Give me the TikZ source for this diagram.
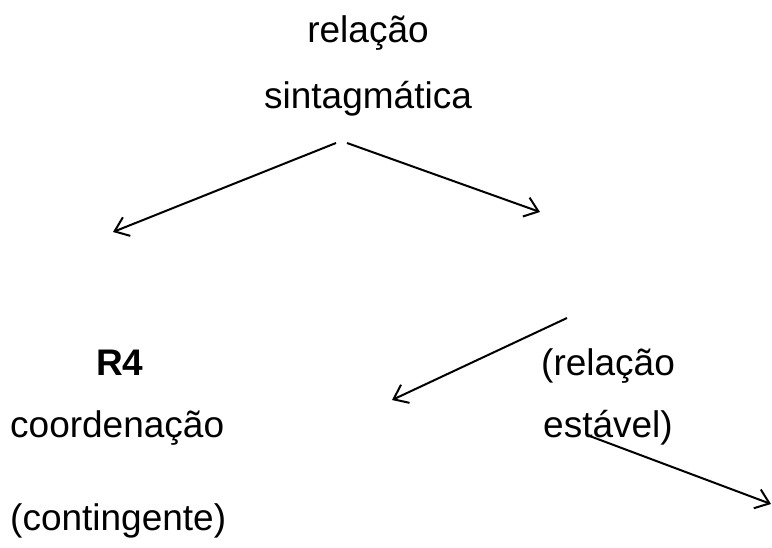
\documentclass[tikz,border=0pt]{standalone}
\usepackage{fontspec}
\setmainfont{Liberation Sans}
\usetikzlibrary{arrows.meta}
\begin{document}
\begin{tikzpicture}[x=1pt,y=-1pt,
  lbl/.style={inner sep=0pt,font=\fontsize{37}{44}\selectfont},
  conn/.style={line width=2pt,-{Straight Barb[length=13pt,width=20pt,line width=2pt]}}]
\useasboundingbox (0,0) rectangle (772,547);
\node[lbl,anchor=base] (rel) at (368,42) {relação};
\node[lbl,anchor=base] (sint) at (368,108) {sintagmática};
\node[lbl,anchor=base west,font=\fontsize{37}{44}\selectfont\bfseries] (r4) at (96,375) {R4};
\node[lbl,anchor=base west] (coord) at (10,437) {coordenação};
\node[lbl,anchor=base west] (cont) at (10,530) {(contingente)};
\node[lbl,anchor=base west] (relb) at (541,375) {(relação};
\node[lbl,anchor=base west] (est) at (543,437) {estável)};
\coordinate (s1) at (336,143);
\coordinate (e1) at (113,232);
\coordinate (s2) at (347,143);
\coordinate (e2) at (540,212);
\coordinate (s3) at (567,318);
\coordinate (e3) at (392,400);
\coordinate (s4) at (587,435);
\coordinate (e4) at (771,504);
\draw[conn] (s1) -- (e1);
\draw[conn] (s2) -- (e2);
\draw[conn] (s3) -- (e3);
\draw[conn] (s4) -- (e4);
\end{tikzpicture}
\end{document}
